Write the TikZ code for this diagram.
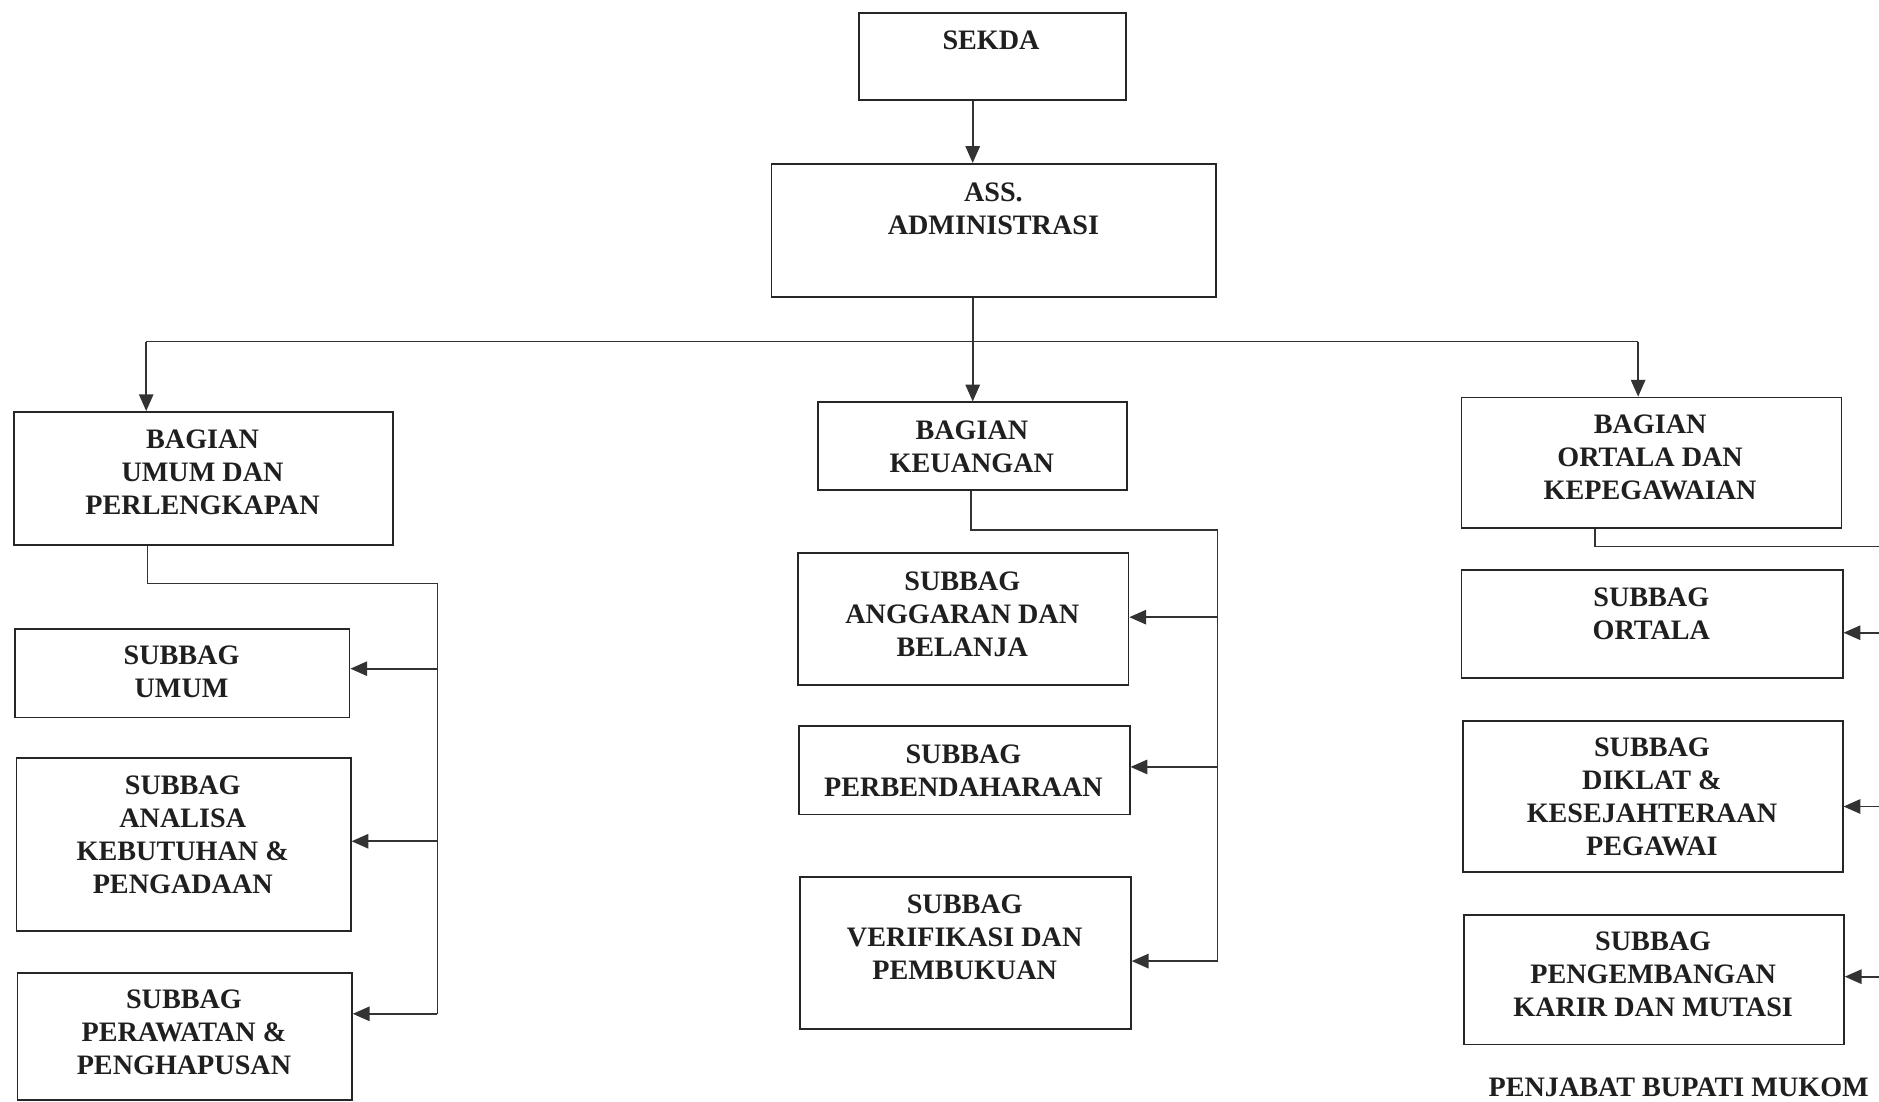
\documentclass[tikz,border=0pt]{standalone}
\usepackage{fontspec}
\setmainfont{Liberation Serif}
\usetikzlibrary{arrows.meta}
\begin{document}
\begin{tikzpicture}[x=1pt,y=-1pt,
  box/.style={draw=black!85, line width=1.4pt, inner sep=0pt, anchor=north west},
  lbl/.style={font=\bfseries\fontsize{23.5}{27.5}\selectfont, align=center, inner sep=0pt, text=black!88},
  conn/.style={draw=black!80, line width=1.4pt},
  arr/.style={conn, -{Triangle[length=14pt,width=12pt]}}]
\useasboundingbox (0,0) rectangle (1568,919);
\clip (0,0) rectangle (1568,919);
% boxes
\node[box, minimum width=223pt, minimum height=73pt] (sekda) at (716,10) {};
\node[box, minimum width=371pt, minimum height=111pt] (ass) at (643,136) {};
\node[box, minimum width=316pt, minimum height=111pt] (bum) at (11,343) {};
\node[box, minimum width=258pt, minimum height=73pt] (bkeu) at (682,335) {};
\node[box, minimum width=317pt, minimum height=109pt] (bort) at (1219,331) {};
\node[box, minimum width=279pt, minimum height=74pt] (sumum) at (12,524) {};
\node[box, minimum width=279pt, minimum height=144pt] (sanal) at (13,632) {};
\node[box, minimum width=279pt, minimum height=106pt] (srawat) at (14,811) {};
\node[box, minimum width=276pt, minimum height=110pt] (sangg) at (665,461) {};
\node[box, minimum width=276pt, minimum height=74pt] (sbend) at (666,605) {};
\node[box, minimum width=276pt, minimum height=127pt] (sver) at (667,731) {};
\node[box, minimum width=318pt, minimum height=90pt] (sort) at (1219,475) {};
\node[box, minimum width=317pt, minimum height=126pt] (sdik) at (1220,601) {};
\node[box, minimum width=317pt, minimum height=108pt] (speng) at (1221,763) {};
% texts
\node[lbl] (tsekda) at (827,34) {SEKDA};
\node[lbl] (tass) at (829,174) {ASS.\\ADMINISTRASI};
\node[lbl] (tbum) at (169,394.5) {BAGIAN\\UMUM DAN\\PERLENGKAPAN};
\node[lbl] (tbkeu) at (811,372.5) {BAGIAN\\KEUANGAN};
\node[lbl] (tbort) at (1377,381.5) {BAGIAN\\ORTALA DAN\\KEPEGAWAIAN};
\node[lbl] (tsumum) at (151.5,561) {SUBBAG\\UMUM};
\node[lbl] (tsanal) at (152.5,696.5) {SUBBAG\\ANALISA\\KEBUTUHAN \&\\PENGADAAN};
\node[lbl] (tsrawat) at (153.5,861.5) {SUBBAG\\PERAWATAN \&\\PENGHAPUSAN};
\node[lbl] (tsangg) at (803,512.5) {SUBBAG\\ANGGARAN DAN\\BELANJA};
\node[lbl] (tsbend) at (804,643) {SUBBAG\\PERBENDAHARAAN};
\node[lbl] (tsver) at (805,782) {SUBBAG\\VERIFIKASI DAN\\PEMBUKUAN};
\node[lbl] (tsort) at (1378,512) {SUBBAG\\ORTALA};
\node[lbl] (tsdik) at (1378.5,665) {SUBBAG\\DIKLAT \&\\KESEJAHTERAAN\\PEGAWAI};
\node[lbl] (tspeng) at (1379.5,813) {SUBBAG\\PENGEMBANGAN\\KARIR DAN MUTASI};
\node[lbl, anchor=west] (pj) at (1242,907) {PENJABAT BUPATI MUKOM};
% top connectors
\draw[arr] (sekda.south -| bkeu.north) -- (ass.north -| bkeu.north);
\draw[arr] (ass.south -| bkeu.north) -- (bkeu.north);
\coordinate (busL) at (122,285);
\coordinate (busR) at (1367,285);
\draw[conn] (busL) -- (busR);
\draw[arr] (busL) -- (busL |- bum.north);
\draw[arr] (busR) -- (busR |- bort.north);
% left tree
\coordinate (lt) at (123,487);
\coordinate (lv) at (365,487);
\coordinate (l1) at (365,558);
\coordinate (l2) at (365,702);
\coordinate (l3) at (365,846);
\draw[conn] (lt |- bum.south) -- (lt) -- (lv) -- (l3);
\draw[arr] (l1) -- (l1 -| sumum.east);
\draw[arr] (l2) -- (l2 -| sanal.east);
\draw[arr] (l3) -- (l3 -| srawat.east);
% middle tree
\coordinate (mt) at (810,442);
\coordinate (mv) at (1016,442);
\coordinate (m1) at (1016,515);
\coordinate (m2) at (1016,640);
\coordinate (m3) at (1016,802);
\draw[conn] (mt |- bkeu.south) -- (mt) -- (mv) -- (m3);
\draw[arr] (m1) -- (m1 -| sangg.east);
\draw[arr] (m2) -- (m2 -| sbend.east);
\draw[arr] (m3) -- (m3 -| sver.east);
% right tree
\coordinate (rt) at (1331,456);
\coordinate (rv) at (1590,456);
\coordinate (r1) at (1590,528);
\coordinate (r2) at (1590,673);
\coordinate (r3) at (1590,815);
\draw[conn] (rt |- bort.south) -- (rt) -- (rv) -- (r3);
\draw[arr] (r1) -- (r1 -| sort.east);
\draw[arr] (r2) -- (r2 -| sdik.east);
\draw[arr] (r3) -- (r3 -| speng.east);
\end{tikzpicture}
\end{document}
